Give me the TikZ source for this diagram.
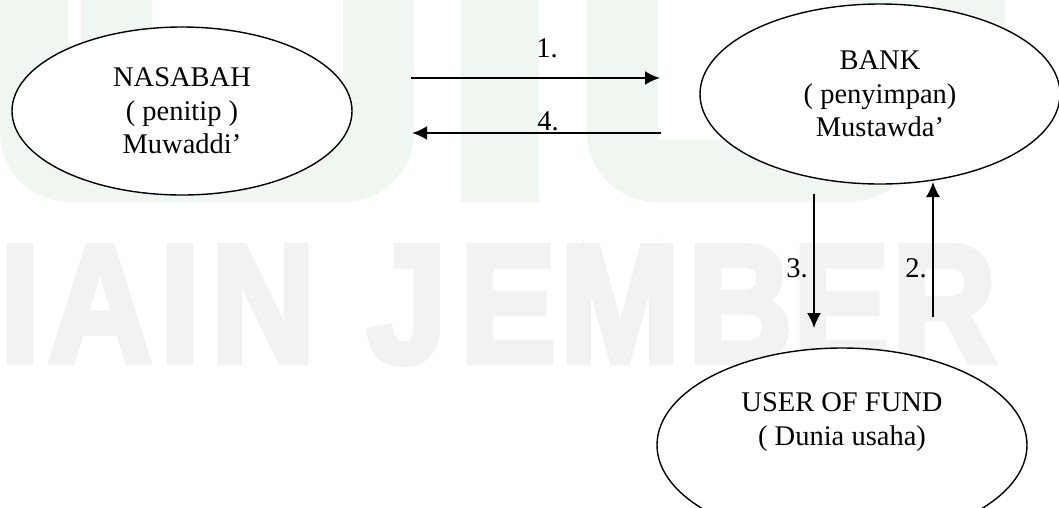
\documentclass[tikz,border=0pt]{standalone}
\usepackage{fontspec}
\setmainfont{Liberation Serif}
\newfontface\wmfont{Liberation Sans Bold}[RawFeature={embolden=4}]
\usetikzlibrary{shapes.geometric,arrows.meta}
\definecolor{wmgreen}{RGB}{239,247,240}
\definecolor{wmgray}{RGB}{242,242,242}
\begin{document}
\begin{tikzpicture}[x=1pt,y=-1pt,
  ent/.style={ellipse, draw=black, line width=1.4pt, fill=white, inner sep=0pt},
  txt/.style={font=\fontsize{28.5}{33.5}\selectfont, align=center, inner sep=0pt},
  lbl/.style={font=\fontsize{28.5}{33.5}\selectfont, inner sep=0pt, anchor=base},
  flowh/.style={line width=2.4pt, -{Latex[length=15pt,width=14pt]}},
  flowv/.style={line width=1.6pt, -{Latex[length=15pt,width=14pt]}},
  wm/.style={font=\wmfont\fontsize{168}{168}\selectfont, text=wmgray, inner sep=0pt, anchor=base}]
\useasboundingbox (0,0) rectangle (1059,507);
\clip (0,0) rectangle (1059,507);
% faint watermark shapes
\fill[wmgreen] (0,-1) [rounded corners=70pt] -- (0,202) -- (414,202) [sharp corners] -- (414,-1) -- cycle;
\fill[white] (152,-2) rectangle (343,140);
\fill[white] (68,-2) rectangle (81,140);
\fill[wmgreen] (461,-1) rectangle (539,202);
\fill[wmgreen] (587,-1) [rounded corners=70pt] -- (587,202) -- (919,202) [sharp corners] -- (919,-1) -- cycle;
\fill[white] (658,-2) rectangle (848,140);
\fill[wmgreen] (932,-1) rectangle (1005,150);
% watermark text
\foreach \ch/\cx [count=\i] in {I/20,A/100,I/180,N/263,J/407,E/508,M/620,B/740,E/841,R/944}
  \node[wm] (wm\i) at (\cx,362) {\scalebox{0.86}[1]{\ch}};
% entities
\node[ent, txt, minimum width=340pt, minimum height=168pt] (nasabah) at (182,111) {NASABAH\\( penitip )\\Muwaddi’};
\node[ent, txt, minimum width=360pt, minimum height=180pt] (bank) at (880,94) {BANK\\( penyimpan)\\Mustawda’};
\node[ent, minimum width=370pt, minimum height=194pt] (user) at (842,445) {};
\node[txt] (usertxt) at (842,422) {USER OF FUND\\( Dunia usaha)};
% connector ends
\coordinate (a1s) at (411,78);
\coordinate (a1e) at (660,78);
\coordinate (a4s) at (661,133);
\coordinate (a4e) at (412,133);
\coordinate (a3s) at (814,194);
\coordinate (a3e) at (814,328);
\coordinate (a2s) at (933,317);
\coordinate (a2e) at (933,182);
\draw[flowh] (a1s) -- (a1e);
\draw[flowh] (a4s) -- (a4e);
\draw[flowv] (a3s) -- (a3e);
\draw[flowv] (a2s) -- (a2e);
% labels
\node[lbl] (l1) at (547,57) {1.};
\node[lbl] (l4) at (548,130) {4.};
\node[lbl] (l3) at (797,277) {3.};
\node[lbl] (l2) at (916,277) {2.};
\end{tikzpicture}
\end{document}
